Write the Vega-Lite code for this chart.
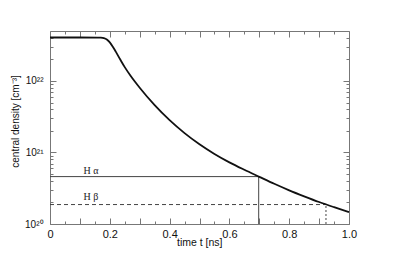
{
  "$schema": "https://vega.github.io/schema/vega-lite/v6.json",
  "width": 299,
  "height": 193,
  "autosize": "none",
  "padding": {"left": 50, "top": 31, "right": 50, "bottom": 32},
  "background": "white",
  "config": {
    "view": {"stroke": "#777", "strokeWidth": 1},
    "axis": {"domain": false, "grid": false, "tickColor": "#777", "tickWidth": 1, "labelFont": "Liberation Sans", "titleFont": "Liberation Sans", "labelColor": "#111", "titleColor": "#111", "titleFontWeight": "normal", "labelFlush": false}
  },
  "datasets": {
    "curve": [
      {"t": 0.0, "n": 4.055e22},
      {"t": 0.1, "n": 4.055e22},
      {"t": 0.16, "n": 4.046e22},
      {"t": 0.17, "n": 4.027e22},
      {"t": 0.18, "n": 3.963e22},
      {"t": 0.19, "n": 3.802e22},
      {"t": 0.20, "n": 3.467e22},
      {"t": 0.21, "n": 3.020e22},
      {"t": 0.22, "n": 2.570e22},
      {"t": 0.235, "n": 1.995e22},
      {"t": 0.25, "n": 1.563e22},
      {"t": 0.27, "n": 1.175e22},
      {"t": 0.285, "n": 9.66e21},
      {"t": 0.30, "n": 8.04e21},
      {"t": 0.35, "n": 4.59e21},
      {"t": 0.40, "n": 2.83e21},
      {"t": 0.45, "n": 1.866e21},
      {"t": 0.50, "n": 1.303e21},
      {"t": 0.55, "n": 9.55e20},
      {"t": 0.60, "n": 7.28e20},
      {"t": 0.65, "n": 5.73e20},
      {"t": 0.70, "n": 4.57e20},
      {"t": 0.75, "n": 3.65e20},
      {"t": 0.80, "n": 2.96e20},
      {"t": 0.85, "n": 2.44e20},
      {"t": 0.90, "n": 2.03e20},
      {"t": 0.95, "n": 1.72e20},
      {"t": 1.00, "n": 1.47e20}
    ],
    "lines": [
      {"t": 0, "t2": 0.698, "n": 4.6e20, "n2": 4.6e20, "dash": "solid"},
      {"t": 0.698, "t2": 0.698, "n": 1e20, "n2": 4.6e20, "dash": "solid"},
      {"t": 0, "t2": 0.923, "n": 1.87e20, "n2": 1.87e20, "dash": "dashed"},
      {"t": 0.923, "t2": 0.923, "n": 1e20, "n2": 1.87e20, "dash": "dotted"}
    ],
    "labels": [
      {"t": 0.137, "n": 4.98e20, "label": "H α"},
      {"t": 0.137, "n": 2.16e20, "label": "H β"}
    ]
  },
  "layer": [
    {
      "data": {"name": "lines"},
      "mark": {"type": "rule", "color": "#444", "strokeWidth": 1},
      "encoding": {
        "x": {"field": "t", "type": "quantitative", "scale": {"domain": [0, 1], "nice": false, "zero": false}, "axis": null},
        "x2": {"field": "t2"},
        "y": {"field": "n", "type": "quantitative", "scale": {"type": "log", "domain": [1e20, 5e22], "nice": false}, "axis": null},
        "y2": {"field": "n2"},
        "strokeDash": {"field": "dash", "type": "nominal", "scale": {"domain": ["solid", "dashed", "dotted"], "range": [[1, 0], [4, 3], [2, 2]]}, "legend": null}
      }
    },
    {
      "data": {"name": "labels"},
      "mark": {"type": "text", "font": "Liberation Serif", "fontSize": 10, "baseline": "alphabetic", "align": "center", "color": "#222"},
      "encoding": {
        "x": {"field": "t", "type": "quantitative", "scale": {"domain": [0, 1], "nice": false, "zero": false}, "axis": null},
        "y": {"field": "n", "type": "quantitative", "scale": {"type": "log", "domain": [1e20, 5e22], "nice": false}, "axis": null},
        "text": {"field": "label"}
      }
    },
    {
      "data": {"name": "curve"},
      "mark": {"type": "line", "color": "#111", "strokeWidth": 1.8, "interpolate": "monotone"},
      "encoding": {
        "x": {"field": "t", "type": "quantitative", "scale": {"domain": [0, 1], "nice": false, "zero": false},
          "axis": {"orient": "bottom", "values": [0, 0.2, 0.4, 0.6, 0.8, 1], "ticks": false, "tickSize": 0, "labelPadding": 4, "labelFontSize": 11, "labelFlush": false,
            "labelExpr": "datum.value == 0 ? '0' : format(datum.value, '.1f')",
            "title": "time t [ns]", "titleFontSize": 10.5, "titleY": 13, "titleX": 172, "titleAlign": "right", "titleBaseline": "top"}},
        "y": {"field": "n", "type": "quantitative", "scale": {"type": "log", "domain": [1e20, 5e22], "nice": false},
          "axis": {"orient": "left", "values": [1e20, 1e21, 1e22], "ticks": false, "tickSize": 0, "labelPadding": 7, "labelFontSize": 10, "labelFlush": false,
            "labelExpr": "datum.value < 5e20 ? '10²⁰' : datum.value < 5e21 ? '10²¹' : '10²²'",
            "title": "central density [cm⁻³]", "titleFontSize": 10, "titleX": -30, "titleY": 90, "titleAngle": -90, "titleBaseline": "bottom"}}
      }
    },
    {
      "data": {"name": "curve"},
      "mark": {"type": "point", "opacity": 0},
      "encoding": {
        "x": {"field": "t", "type": "quantitative", "scale": {"domain": [0, 1], "nice": false, "zero": false},
          "axis": {"orient": "bottom", "values": [0, 0.1, 0.2, 0.3, 0.4, 0.5, 0.6, 0.7, 0.8, 0.9, 1], "offset": -6, "tickSize": 6, "labels": false, "title": null}},
        "y": {"field": "n", "type": "quantitative", "scale": {"type": "log", "domain": [1e20, 5e22], "nice": false},
          "axis": {"orient": "left", "values": [1e20, 1e21, 1e22], "offset": -6, "tickSize": 6, "labels": false, "title": null}}
      }
    },
    {
      "data": {"name": "curve"},
      "mark": {"type": "point", "opacity": 0},
      "encoding": {
        "x": {"field": "t", "type": "quantitative", "scale": {"domain": [0, 1], "nice": false, "zero": false},
          "axis": {"orient": "bottom", "values": [0.05, 0.15, 0.25, 0.35, 0.45, 0.55, 0.65, 0.75, 0.85, 0.95], "offset": -3, "tickSize": 3, "labels": false, "title": null}},
        "y": {"field": "n", "type": "quantitative", "scale": {"type": "log", "domain": [1e20, 5e22], "nice": false},
          "axis": {"orient": "left", "values": [2e20, 3e20, 4e20, 5e20, 6e20, 7e20, 8e20, 9e20, 2e21, 3e21, 4e21, 5e21, 6e21, 7e21, 8e21, 9e21, 2e22, 3e22, 4e22], "offset": -3, "tickSize": 3, "labels": false, "title": null}}
      }
    },
    {
      "data": {"name": "curve"},
      "mark": {"type": "point", "opacity": 0},
      "encoding": {
        "x": {"field": "t", "type": "quantitative", "scale": {"domain": [0, 1], "nice": false, "zero": false},
          "axis": {"orient": "top", "values": [0, 0.1, 0.2, 0.3, 0.4, 0.5, 0.6, 0.7, 0.8, 0.9, 1], "offset": -6, "tickSize": 6, "labels": false, "title": null}},
        "y": {"field": "n", "type": "quantitative", "scale": {"type": "log", "domain": [1e20, 5e22], "nice": false},
          "axis": {"orient": "right", "values": [1e20, 1e21, 1e22], "offset": -6, "tickSize": 6, "labels": false, "title": null}}
      }
    },
    {
      "data": {"name": "curve"},
      "mark": {"type": "point", "opacity": 0},
      "encoding": {
        "x": {"field": "t", "type": "quantitative", "scale": {"domain": [0, 1], "nice": false, "zero": false},
          "axis": {"orient": "top", "values": [0.05, 0.15, 0.25, 0.35, 0.45, 0.55, 0.65, 0.75, 0.85, 0.95], "offset": -3, "tickSize": 3, "labels": false, "title": null}},
        "y": {"field": "n", "type": "quantitative", "scale": {"type": "log", "domain": [1e20, 5e22], "nice": false},
          "axis": {"orient": "right", "values": [2e20, 3e20, 4e20, 5e20, 6e20, 7e20, 8e20, 9e20, 2e21, 3e21, 4e21, 5e21, 6e21, 7e21, 8e21, 9e21, 2e22, 3e22, 4e22], "offset": -3, "tickSize": 3, "labels": false, "title": null}}
      }
    }
  ],
  "resolve": {"axis": {"x": "independent", "y": "independent"}}
}
